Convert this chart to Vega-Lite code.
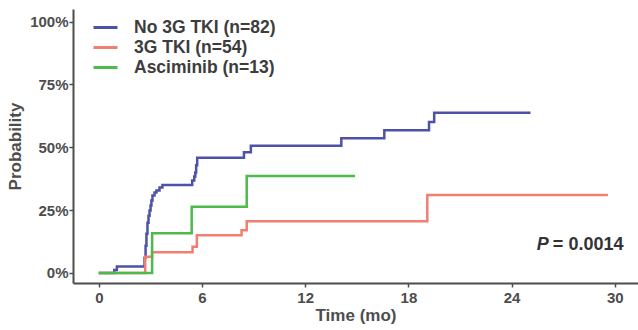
{
  "$schema": "https://vega.github.io/schema/vega-lite/v6.json",
  "autosize": "none",
  "width": 565,
  "height": 274,
  "padding": {"left": 73, "top": 9, "right": 0, "bottom": 47},
  "background": "white",
  "config": {
    "view": {"stroke": null},
    "axis": {
      "grid": false,
      "domainColor": "#4d4d4d",
      "domainWidth": 2,
      "tickColor": "#4d4d4d",
      "tickWidth": 1.5,
      "tickSize": 4,
      "labelFont": "Liberation Sans",
      "labelFontWeight": "bold",
      "labelFontSize": 15,
      "labelColor": "#4d4d4d",
      "titleFont": "Liberation Sans",
      "titleFontWeight": "bold",
      "titleFontSize": 17,
      "titleColor": "#4d4d4d"
    }
  },
  "datasets": {
    "curves": [
      {"group": "No 3G TKI (n=82)", "t": 0, "p": 0},
      {"group": "No 3G TKI (n=82)", "t": 0.9, "p": 0.012},
      {"group": "No 3G TKI (n=82)", "t": 1.05, "p": 0.026},
      {"group": "No 3G TKI (n=82)", "t": 2.66, "p": 0.06},
      {"group": "No 3G TKI (n=82)", "t": 2.72, "p": 0.108},
      {"group": "No 3G TKI (n=82)", "t": 2.77, "p": 0.156},
      {"group": "No 3G TKI (n=82)", "t": 2.83, "p": 0.2},
      {"group": "No 3G TKI (n=82)", "t": 2.89, "p": 0.228},
      {"group": "No 3G TKI (n=82)", "t": 2.95, "p": 0.248},
      {"group": "No 3G TKI (n=82)", "t": 3.01, "p": 0.268},
      {"group": "No 3G TKI (n=82)", "t": 3.06, "p": 0.288},
      {"group": "No 3G TKI (n=82)", "t": 3.12, "p": 0.308},
      {"group": "No 3G TKI (n=82)", "t": 3.24, "p": 0.32},
      {"group": "No 3G TKI (n=82)", "t": 3.35, "p": 0.328},
      {"group": "No 3G TKI (n=82)", "t": 3.53, "p": 0.34},
      {"group": "No 3G TKI (n=82)", "t": 3.7, "p": 0.35},
      {"group": "No 3G TKI (n=82)", "t": 5.43, "p": 0.368},
      {"group": "No 3G TKI (n=82)", "t": 5.55, "p": 0.384},
      {"group": "No 3G TKI (n=82)", "t": 5.61, "p": 0.4},
      {"group": "No 3G TKI (n=82)", "t": 5.66, "p": 0.428},
      {"group": "No 3G TKI (n=82)", "t": 5.72, "p": 0.458},
      {"group": "No 3G TKI (n=82)", "t": 8.44, "p": 0.48},
      {"group": "No 3G TKI (n=82)", "t": 8.84, "p": 0.506},
      {"group": "No 3G TKI (n=82)", "t": 14.1, "p": 0.536},
      {"group": "No 3G TKI (n=82)", "t": 16.6, "p": 0.568},
      {"group": "No 3G TKI (n=82)", "t": 19.2, "p": 0.6},
      {"group": "No 3G TKI (n=82)", "t": 19.5, "p": 0.637},
      {"group": "No 3G TKI (n=82)", "t": 25.1, "p": 0.637},
      {"group": "3G TKI (n=54)", "t": 0, "p": 0},
      {"group": "3G TKI (n=54)", "t": 2.7, "p": 0.064},
      {"group": "3G TKI (n=54)", "t": 3.1, "p": 0.082},
      {"group": "3G TKI (n=54)", "t": 5.45, "p": 0.104},
      {"group": "3G TKI (n=54)", "t": 5.7, "p": 0.15},
      {"group": "3G TKI (n=54)", "t": 8.3, "p": 0.17},
      {"group": "3G TKI (n=54)", "t": 8.6, "p": 0.206},
      {"group": "3G TKI (n=54)", "t": 19.1, "p": 0.31},
      {"group": "3G TKI (n=54)", "t": 29.6, "p": 0.31},
      {"group": "Asciminib (n=13)", "t": 0, "p": 0},
      {"group": "Asciminib (n=13)", "t": 3.1, "p": 0.158},
      {"group": "Asciminib (n=13)", "t": 5.4, "p": 0.263},
      {"group": "Asciminib (n=13)", "t": 8.6, "p": 0.386},
      {"group": "Asciminib (n=13)", "t": 14.9, "p": 0.386}
    ],
    "ptext": [
      {"t": 26.16, "p": 0.11, "label": "P"}
    ],
    "vtext": [
      {"t": 26.4, "p": 0.11, "label": "= 0.0014"}
    ]
  },
  "layer": [
    {
      "data": {"name": "curves"},
      "mark": {"type": "line", "interpolate": "step-after", "strokeWidth": 2.5},
      "encoding": {
        "x": {
          "field": "t", "type": "quantitative",
          "scale": {"domain": [-1.5, 31.35], "nice": false, "zero": false},
          "axis": {"values": [0, 6, 12, 18, 24, 30], "title": "Time (mo)", "labelPadding": 3, "titlePadding": 2}
        },
        "y": {
          "field": "p", "type": "quantitative",
          "scale": {"domain": [-0.04, 1.05], "nice": false, "zero": false},
          "axis": {"values": [0, 0.25, 0.5, 0.75, 1], "format": ".0%", "title": "Probability", "labelPadding": 1, "titlePadding": 5}
        },
        "color": {
          "field": "group", "type": "nominal",
          "scale": {
            "domain": ["No 3G TKI (n=82)", "3G TKI (n=54)", "Asciminib (n=13)"],
            "range": ["#4d52a8", "#f07f72", "#4cbb4c"]
          },
          "legend": {
            "title": null,
            "orient": "none",
            "legendX": 21,
            "legendY": 7,
            "symbolType": "M-1.2,0H1.2",
            "symbolSize": 400,
            "symbolStrokeWidth": 3,
            "labelFont": "Liberation Sans",
            "labelFontSize": 17.5,
            "labelFontWeight": "bold",
            "labelColor": "#3d3d3d",
            "labelOffset": 17,
            "rowPadding": -1
          }
        },
        "order": {"field": "t", "type": "quantitative"}
      }
    },
    {
      "data": {"name": "ptext"},
      "mark": {"type": "text", "align": "right", "baseline": "middle", "font": "Liberation Sans", "fontSize": 18, "fontWeight": "bold", "fontStyle": "italic", "color": "#333333"},
      "encoding": {
        "x": {"field": "t", "type": "quantitative"},
        "y": {"field": "p", "type": "quantitative"},
        "text": {"field": "label"}
      }
    },
    {
      "data": {"name": "vtext"},
      "mark": {"type": "text", "align": "left", "baseline": "middle", "font": "Liberation Sans", "fontSize": 18, "fontWeight": "bold", "color": "#333333"},
      "encoding": {
        "x": {"field": "t", "type": "quantitative"},
        "y": {"field": "p", "type": "quantitative"},
        "text": {"field": "label"}
      }
    }
  ]
}
